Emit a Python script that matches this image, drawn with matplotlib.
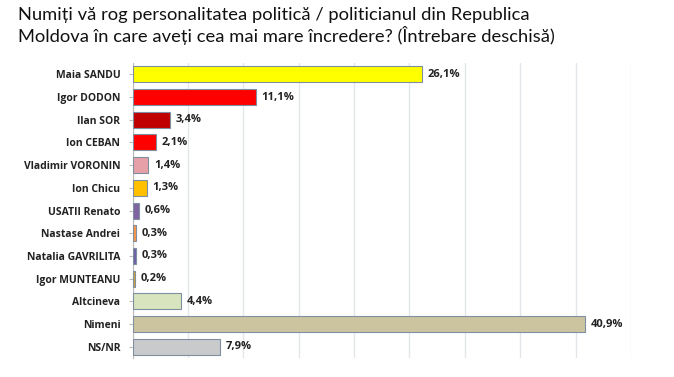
import numpy as np
import matplotlib.pyplot as plt

plt.rcParams['font.family'] = ['Open Sans', 'DejaVu Sans']

names = ["Maia SANDU", "Igor DODON", "Ilan SOR", "Ion CEBAN", "Vladimir VORONIN",
         "Ion Chicu", "USATII Renato", "Nastase Andrei", "Natalia GAVRILITA",
         "Igor MUNTEANU", "Altcineva", "Nimeni", "NS/NR"]
values = [26.1, 11.1, 3.4, 2.1, 1.4, 1.3, 0.6, 0.3, 0.3, 0.2, 4.4, 40.9, 7.9]
colors = ["#FFFF00", "#FF0000", "#C00000", "#FF0000", "#E6A0A8", "#FFC000", "#8064A2",
          "#F79646", "#7060A8", "#D4A82A", "#D7E4BD", "#CBC49F", "#C9CACC"]

fig = plt.figure(figsize=(6.74, 3.77), dpi=100)
ax = fig.add_axes([0.197, 0.05, 0.739, 0.783])

y = np.arange(len(names))
ax.barh(y, values, height=0.7, color=colors, edgecolor="#7F8FA0", linewidth=0.8, zorder=3)
for yi, v in zip(y, values):
    ax.text(v + 0.5, yi, f"{v:.1f}%".replace(".", ","), va="center", ha="left",
            fontsize=8, fontweight="bold", color="#222222")

ax.set_yticks(y)
ax.set_yticklabels(names, fontsize=7.5, fontweight="bold", color="#222222")
ax.set_ylim(len(names) - 0.5, -0.5)
ax.set_xlim(0, 45)
ax.set_xticks(np.arange(0, 46, 5))
ax.set_xticklabels([])
ax.tick_params(axis="x", length=0)
ax.tick_params(axis="y", length=3, color="#BBBBBB", pad=6)
ax.grid(axis="x", color="#E2E6EA", linewidth=1, zorder=0)
for s in ["top", "right", "bottom"]:
    ax.spines[s].set_visible(False)
ax.spines["left"].set_color("#BBBBBB")

fig.text(0.027, 0.982, "Numiți vă rog personalitatea politică / politicianul din Republica\n"
         "Moldova în care aveți cea mai mare încredere? (Întrebare deschisă)",
         fontsize=13.2, va="top", ha="left", color="#111111", linespacing=1.2,
         family=["Lato", "DejaVu Sans"])

fig.savefig("out.png", dpi=100)
